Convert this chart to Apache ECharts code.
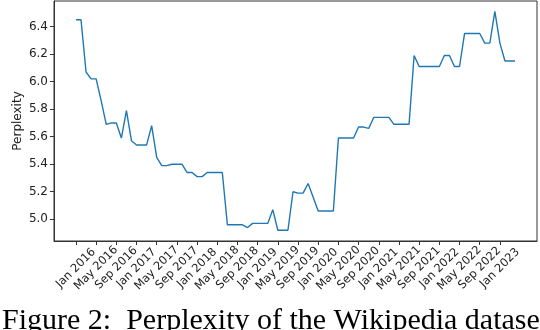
<!DOCTYPE html>
<html>
<head>
<meta charset="utf-8">
<script src="https://cdn.jsdelivr.net/npm/echarts@6/dist/echarts.min.js"></script>
<style>
  html, body { margin: 0; padding: 0; background: #fff; }
  #main { width: 540px; height: 330px; }
</style>
</head>
<body>
<div id="main"></div>
<script>
// monthly values, Jan 2016 .. Apr 2023 (index = months since Jan 2016)
var perplexity = [
  6.45, 6.45, 6.07, 6.02, 6.02, 5.86, 5.69, 5.70, 5.70, 5.59, 5.79, 5.57,
  5.54, 5.54, 5.54, 5.68, 5.45, 5.39, 5.39, 5.40, 5.40, 5.40, 5.34, 5.34,
  5.31, 5.31, 5.34, 5.34, 5.34, 5.34, 4.96, 4.96, 4.96, 4.96, 4.94, 4.97,
  4.97, 4.97, 4.97, 5.07, 4.92, 4.92, 4.92, 5.20, 5.19, 5.19, 5.26, 5.16,
  5.06, 5.06, 5.06, 5.06, 5.59, 5.59, 5.59, 5.59, 5.67, 5.67, 5.66, 5.74,
  5.74, 5.74, 5.74, 5.69, 5.69, 5.69, 5.69, 6.19, 6.11, 6.11, 6.11, 6.11,
  6.11, 6.19, 6.19, 6.11, 6.11, 6.35, 6.35, 6.35, 6.35, 6.28, 6.28, 6.51,
  6.28, 6.15, 6.15, 6.15
];

// x tick labels, every 4 months starting Jan 2016
var tickLabels = [
  'Jan 2016', 'May 2016', 'Sep 2016', 'Jan 2017', 'May 2017', 'Sep 2017',
  'Jan 2018', 'May 2018', 'Sep 2018', 'Jan 2019', 'May 2019', 'Sep 2019',
  'Jan 2020', 'May 2020', 'Sep 2020', 'Jan 2021', 'May 2021', 'Sep 2021',
  'Jan 2022', 'May 2022', 'Sep 2022', 'Jan 2023'
];
var tickMonths = tickLabels.map(function (_, i) { return i * 4; });

var yTicks = [5.0, 5.2, 5.4, 5.6, 5.8, 6.0, 6.2, 6.4];

var chart = echarts.init(document.getElementById('main'), null, { renderer: 'canvas' });

var font = 'DejaVu Sans';
var option = {
  backgroundColor: '#ffffff',
  animation: false,
  grid: {
    left: 54, right: 3, top: 1, bottom: 89,
    show: true, borderColor: '#333', borderWidth: 1
  },
  xAxis: {
    type: 'value',
    min: -4.35,
    max: 91.35,
    splitLine: { show: false },
    axisLine: { show: true, onZero: false, lineStyle: { color: '#333' } },
    axisTick: {
      show: true, inside: false, length: 4,
      customValues: tickMonths,
      lineStyle: { color: '#333' }
    },
    axisLabel: {
      customValues: tickMonths,
      rotate: 45,
      align: 'center',
      verticalAlign: 'middle',
      margin: 27,
      fontFamily: font,
      fontSize: 11.5,
      color: '#222',
      formatter: function (v) {
        return tickLabels[Math.round(v / 4)];
      }
    }
  },
  yAxis: {
    type: 'value',
    min: 4.842,
    max: 6.586,
    name: 'Perplexity',
    nameLocation: 'middle',
    nameGap: 30,
    nameMoveOverlap: false,
    nameTextStyle: { fontFamily: font, fontSize: 12, color: '#222' },
    splitLine: { show: false },
    axisLine: { show: true, onZero: false, lineStyle: { color: '#333' } },
    axisTick: {
      show: true, inside: false, length: 4,
      customValues: yTicks,
      lineStyle: { color: '#333' }
    },
    axisLabel: {
      customValues: yTicks,
      margin: 6,
      fontFamily: font,
      fontSize: 12,
      color: '#222',
      formatter: function (v) { return v.toFixed(1); }
    }
  },
  graphic: [{
    type: 'text',
    left: 2,
    top: 306,
    style: {
      text: 'Figure 2:  Perplexity of the Wikipedia dataset',
      font: '30px "Liberation Serif"',
      fill: '#000'
    }
  }],
  series: [{
    type: 'line',
    data: perplexity.map(function (v, i) { return [i, v]; }),
    showSymbol: false,
    lineStyle: { color: '#1f77b4', width: 1.4 },
    itemStyle: { color: '#1f77b4' }
  }]
};

chart.setOption(option);
</script>
</body>
</html>
